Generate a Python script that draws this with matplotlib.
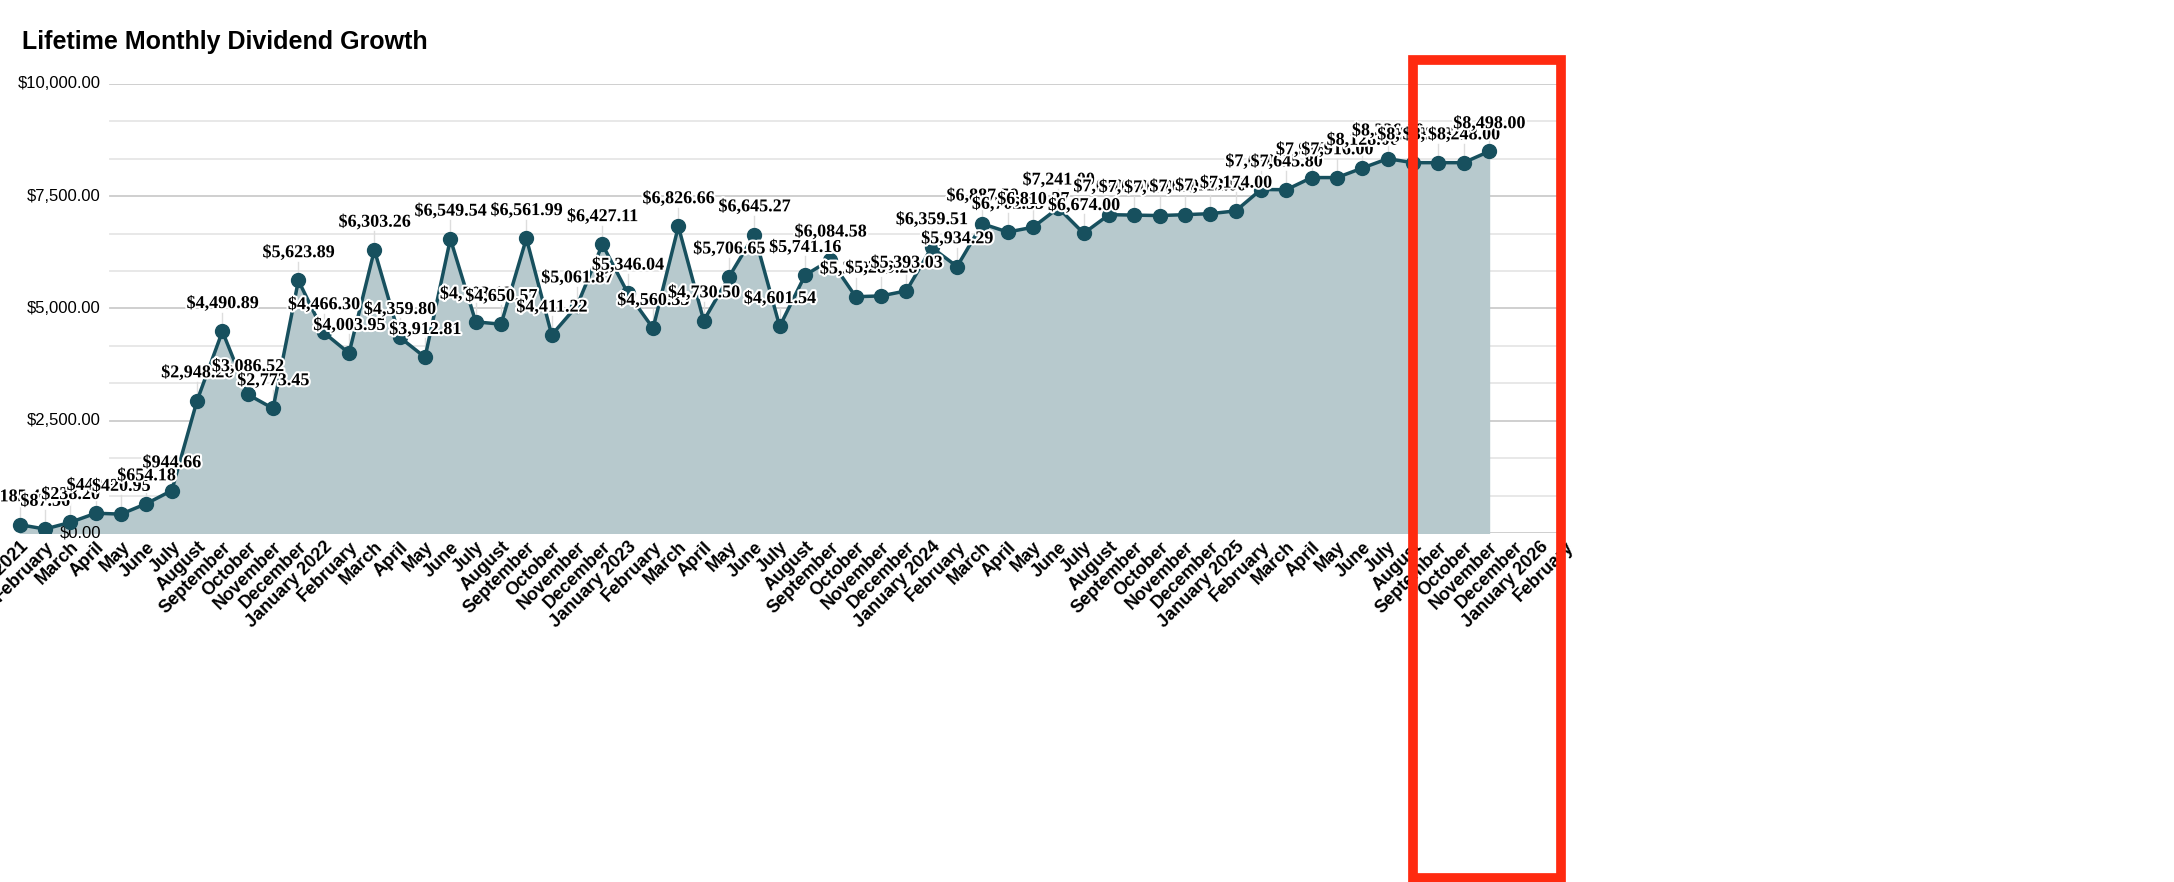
import matplotlib.pyplot as plt
import matplotlib.patheffects as pe
from matplotlib.patches import Rectangle

# monthly dividend values, Jan 2021 .. Nov 2025
values = [185.47, 87.56, 238.20, 440.12, 420.95, 654.18, 944.66, 2948.26, 4490.89, 3086.52, 2773.45, 5623.89,
          4466.30, 4003.95, 6303.26, 4359.80, 3912.81, 6549.54, 4703.12, 4650.57, 6561.99, 4411.22, 5061.87, 6427.11,
          5346.04, 4560.35, 6826.66, 4730.50, 5706.65, 6645.27, 4601.54, 5741.16, 6084.58, 5262.10, 5280.28, 5393.03,
          6359.51, 5934.29, 6887.59, 6702.55, 6810.27, 7241.00, 6674.00, 7090.00, 7080.00, 7070.00, 7090.00, 7112.00,
          7174.00, 7650.00, 7645.80, 7916.00, 7916.00, 8128.00, 8336.00, 8248.00, 8248.00, 8248.00, 8498.00]
months = ['January', 'February', 'March', 'April', 'May', 'June', 'July', 'August',
          'September', 'October', 'November', 'December']
labels = []
for i in range(62):
    y, m = 2021 + i // 12, i % 12
    labels.append(f'{months[m]} {y}' if m == 0 else months[m])

line_c = '#17505e'
fill_c = '#b7c9cd'

fig = plt.figure(figsize=(21.74, 8.82), dpi=100)
W, H = 2174, 882
x0, x1 = 20, 1565
ax = fig.add_axes([0, (H - 533) / H, x1 / W, (533 - 84) / H])
xs = list(range(len(values)))
step = (1508 - 20) / 58
ax.set_xlim(-x0 / step, (x1 - x0) / step)
ax.set_ylim(0, 10000)

# gridlines starting right of y labels
gx = 110 / x1
for k in range(13):
    v = k * 10000 / 12
    ax.axhline(v, xmin=gx, xmax=1, color='#cccccc' if k % 3 == 0 else '#e6e6e6', lw=1.3, zorder=0)
    if k % 3 == 0:
        ax.text(101 / x1, v, f'${v:,.2f}', transform=ax.get_yaxis_transform(),
                ha='right', va='center', fontsize=12, family='Liberation Sans')

ax.fill_between(xs, values, color=fill_c, zorder=1)
ax.plot(xs, values, color=line_c, lw=2.5, marker='o', ms=10, zorder=3)

for x, v in zip(xs, values):
    ax.plot([x, x], [v, v + 420], color='#dddddd', lw=1, zorder=2)
    ax.text(x, v + 430, f'${v:,.2f}', ha='center', va='bottom', fontsize=13, fontweight='bold',
            family='Liberation Serif', zorder=4,
            path_effects=[pe.withStroke(linewidth=3, foreground='white')])

ax.set_xticks(range(len(labels)))
ax.set_xticklabels(labels, rotation=45, ha='right', rotation_mode='anchor',
                   fontsize=13, fontweight='bold', family='Liberation Sans')
ax.tick_params(axis='x', length=0, pad=4)
ax.set_yticks([])
for s in ax.spines.values():
    s.set_visible(False)

fig.text(22 / W, 1 - 42 / H, 'Lifetime Monthly Dividend Growth', fontsize=18, fontweight='bold',
         family='Liberation Sans', va='center')

fig.patches.append(Rectangle((1413 / W, 1 - 878 / H), 148 / W, 818 / H, transform=fig.transFigure,
                             fill=False, edgecolor='#ff2a10', lw=7))

fig.savefig('out.png', dpi=100)
